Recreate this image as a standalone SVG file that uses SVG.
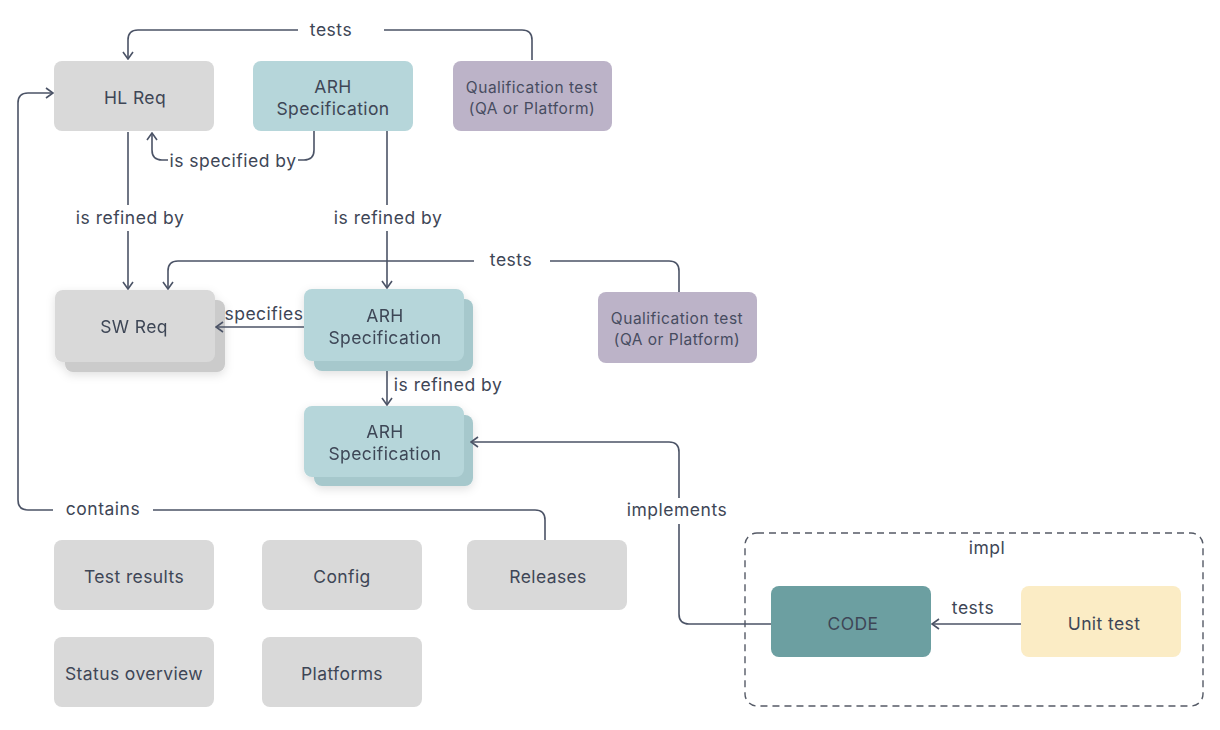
<svg xmlns="http://www.w3.org/2000/svg" width="1220" height="730" viewBox="0 0 1220 730">
<defs>
<style>
text{font-family:Inter,"Open Sans","Liberation Sans",sans-serif;fill:#3e4656;text-anchor:middle}
.n{font-size:17.5px;letter-spacing:0.4px}
.q{font-size:15.5px;letter-spacing:0.5px;fill:#474c60}
.lbl{font-size:17.5px;letter-spacing:0.5px}
.gray{fill:#d9d9d9}
.grayb{fill:#cbcbcb}
.teal{fill:#b6d6da}
.tealb{fill:#a6c8cc}
.purp{fill:#bcb3c8}
.code{fill:#6c9fa1}
.unit{fill:#fbecc5}
.c{fill:none;stroke:#4b5366;stroke-width:1.6}
.bg{fill:#ffffff}
</style>
<marker id="ah" viewBox="0 0 12 12" refX="11" refY="6" markerWidth="12" markerHeight="12" markerUnits="userSpaceOnUse" orient="auto">
<path d="M4,1 L11,6 L4,11" fill="none" stroke="#4b5366" stroke-width="1.6"/>
</marker>
<filter id="sh" x="-20%" y="-20%" width="140%" height="150%">
<feDropShadow dx="0" dy="3" stdDeviation="5" flood-color="#000" flood-opacity="0.12"/>
</filter>
</defs>
<rect width="1220" height="730" fill="#ffffff"/>

<g id="hl-req">
<rect class="gray" x="54" y="61" width="160" height="70" rx="8"/>
<text class="n" x="135" y="104">HL Req</text>
</g>
<g id="arh-top">
<rect class="teal" x="253" y="61" width="160" height="70" rx="8"/>
<text class="n" x="333" y="93">ARH</text>
<text class="n" x="333" y="115">Specification</text>
</g>
<g id="qual-top">
<rect class="purp" x="453" y="61" width="159" height="70" rx="8"/>
<text class="q" x="532" y="93">Qualification test</text>
<text class="q" x="532" y="114">(QA or Platform)</text>
</g>

<g id="sw-req" filter="url(#sh)">
<rect class="grayb" x="65" y="300" width="160" height="72" rx="8"/>
<rect class="gray" x="55" y="290" width="160" height="72" rx="8"/>
<text class="n" x="134" y="333">SW Req</text>
</g>
<g id="arh-mid" filter="url(#sh)">
<rect class="tealb" x="314" y="299" width="159" height="72" rx="8"/>
<rect class="teal" x="304" y="289" width="160" height="72" rx="8"/>
<text class="n" x="385" y="322">ARH</text>
<text class="n" x="385" y="344">Specification</text>
</g>
<g id="qual-mid">
<rect class="purp" x="598" y="292" width="159" height="71" rx="8"/>
<text class="q" x="677" y="324">Qualification test</text>
<text class="q" x="677" y="345">(QA or Platform)</text>
</g>
<g id="arh-low" filter="url(#sh)">
<rect class="tealb" x="314" y="415" width="159" height="71" rx="8"/>
<rect class="teal" x="304" y="406" width="160" height="71" rx="8"/>
<text class="n" x="385" y="438">ARH</text>
<text class="n" x="385" y="460">Specification</text>
</g>

<g id="test-results">
<rect class="gray" x="54" y="540" width="160" height="70" rx="8"/>
<text class="n" x="134" y="583">Test results</text>
</g>
<g id="config">
<rect class="gray" x="262" y="540" width="160" height="70" rx="8"/>
<text class="n" x="342" y="583">Config</text>
</g>
<g id="releases">
<rect class="gray" x="467" y="540" width="160" height="70" rx="8"/>
<text class="n" x="548" y="583">Releases</text>
</g>
<g id="status-overview">
<rect class="gray" x="54" y="637" width="160" height="70" rx="8"/>
<text class="n" x="134" y="680">Status overview</text>
</g>
<g id="platforms">
<rect class="gray" x="262" y="637" width="160" height="70" rx="8"/>
<text class="n" x="342" y="680">Platforms</text>
</g>

<g id="impl">
<rect x="745" y="533" width="458" height="173" rx="12" fill="none" stroke="#555a66" stroke-width="1.4" stroke-dasharray="7,5"/>
<text class="lbl" x="987" y="554">impl</text>
</g>
<g id="code">
<rect class="code" x="771" y="586" width="160" height="71" rx="8"/>
<text class="n" x="853" y="630">CODE</text>
</g>
<g id="unit-test">
<rect class="unit" x="1021" y="586" width="160" height="71" rx="8"/>
<text class="n" x="1104" y="630">Unit test</text>
</g>

<g id="connectors">
<path class="c" d="M532,60 V40 Q532,30 522,30 H138 Q128,30 128,40 V59" marker-end="url(#ah)"/>
<path class="c" d="M314,131 V150 Q314,160 304,160 H162 Q152,160 152,150 V133" marker-end="url(#ah)"/>
<path class="c" d="M128,132 V289" marker-end="url(#ah)"/>
<path class="c" d="M387,131 V288" marker-end="url(#ah)"/>
<path class="c" d="M679,292 V271 Q679,261 669,261 H178 Q168,261 168,271 V289" marker-end="url(#ah)"/>
<path class="c" d="M304,327 H216" marker-end="url(#ah)"/>
<path class="c" d="M387,371 V405" marker-end="url(#ah)"/>
<path class="c" d="M771,624 H689 Q679,624 679,614 V452 Q679,442 669,442 H471" marker-end="url(#ah)"/>
<path class="c" d="M1021,624 H932" marker-end="url(#ah)"/>
<path class="c" d="M545,540 V520 Q545,510 535,510 H28 Q18,510 18,500 V103 Q18,93 28,93 H53" marker-end="url(#ah)"/>

<rect class="bg" x="298" y="18" width="86" height="24"/>
<text class="lbl" x="331" y="36">tests</text>
<rect class="bg" x="168" y="149" width="130" height="24"/>
<text class="lbl" x="233" y="167">is specified by</text>
<rect class="bg" x="68" y="205" width="124" height="26"/>
<text class="lbl" x="130" y="224">is refined by</text>
<rect class="bg" x="326" y="205" width="124" height="26"/>
<text class="lbl" x="388" y="224">is refined by</text>
<rect class="bg" x="474" y="249" width="76" height="24"/>
<text class="lbl" x="511" y="266">tests</text>
<text class="lbl" x="264" y="320">specifies</text>
<text class="lbl" x="448" y="391">is refined by</text>
<rect class="bg" x="618" y="498" width="118" height="26"/>
<text class="lbl" x="677" y="516">implements</text>
<text class="lbl" x="973" y="614">tests</text>
<rect class="bg" x="53" y="498" width="100" height="24"/>
<text class="lbl" x="103" y="515">contains</text>
</g>
</svg>
